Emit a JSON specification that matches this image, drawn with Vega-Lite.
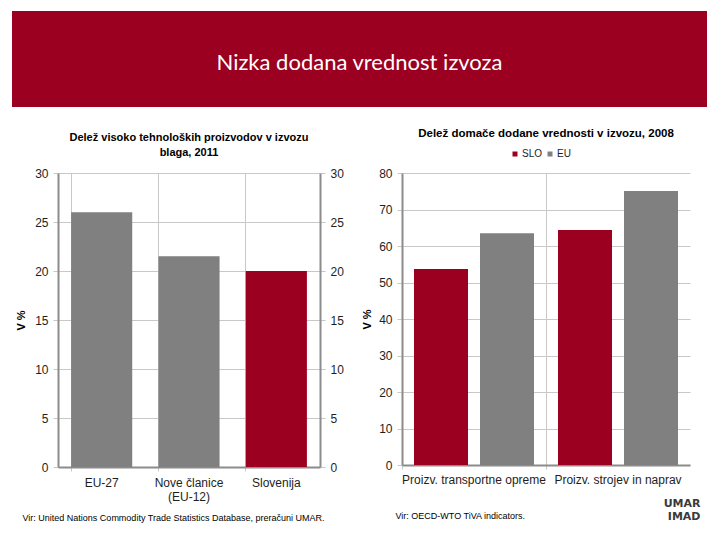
{
  "$schema": "https://vega.github.io/schema/vega-lite/v6.json",
  "padding": {"left": 12, "top": 11, "right": 13, "bottom": 5},
  "background": "white",
  "config": {
    "font": "Liberation Sans",
    "view": {"stroke": null},
    "axis": {
      "labelFont": "Liberation Sans",
      "labelFontSize": 12,
      "labelColor": "#1e1e1e",
      "domainColor": "#8c8c8c",
      "domainWidth": 2,
      "gridColor": "#c8c8c8",
      "gridWidth": 1,
      "tickColor": "#c8c8c8",
      "tickSize": 5,
      "labelPadding": 5,
      "titleFont": "Liberation Sans",
      "titleFontSize": 11,
      "titleFontWeight": "bold",
      "titleColor": "#000000"
    },
    "title": {"font": "Liberation Sans", "fontSize": 11, "fontWeight": "bold", "color": "#000000", "anchor": "middle"}
  },
  "spacing": 20,
  "resolve": {"scale": {"color": "independent"}, "legend": {"color": "independent"}},
  "vconcat": [
    {
      "width": 695,
      "height": 96,
      "view": {"fill": "#9c0020", "stroke": null},
      "data": {"values": [{"naslov": "Nizka dodana vrednost izvoza"}]},
      "mark": {"type": "text", "color": "white", "font": "Lato", "fontSize": 22, "dy": 4},
      "encoding": {"text": {"field": "naslov", "type": "nominal"}}
    },
    {
      "bounds": "flush",
      "spacing": 45,
      "resolve": {"scale": {"color": "independent"}, "legend": {"color": "independent"}},
      "hconcat": [
        {
          "width": 1,
          "height": 1,
          "data": {"values": []},
          "mark": {"type": "point", "opacity": 0},
          "encoding": {}
        },
        {
          "bounds": "flush",
          "spacing": 82,
          "resolve": {"scale": {"color": "independent"}, "legend": {"color": "independent"}},
          "hconcat": [
            {
              "width": 262,
              "height": 294,
              "title": {"text": ["Delež visoko tehnoloških proizvodov v izvozu", "blaga, 2011"], "lineHeight": 15, "offset": 9, "fontSize": 11},
              "data": {"values": [
                {"kategorija": "EU-27", "delez": 26.0, "skupina": "EU"},
                {"kategorija": "Nove članice (EU-12)", "delez": 21.5, "skupina": "EU"},
                {"kategorija": "Slovenija", "delez": 20.0, "skupina": "SLO"}
              ]},
              "encoding": {
                "x": {
                  "field": "kategorija", "type": "nominal", "sort": null,
                  "scale": {"paddingInner": 0.3, "paddingOuter": 0.15},
                  "axis": {
                    "bandPosition": 0, "grid": true, "tickSize": 4, "labelPadding": 6, "labelAngle": 0,
                    "labelLineHeight": 14,
                    "labelExpr": "datum.value == 'Nove članice (EU-12)' ? ['Nove članice', '(EU-12)'] : datum.value",
                    "title": "Vir: United Nations Commodity Trade Statistics Database, preračuni UMAR.",
                    "titleFontSize": 9, "titleFontWeight": "normal", "titleAnchor": "start", "titleAlign": "left",
                    "titleBaseline": "middle", "titleX": -36, "titleY": 50
                  }
                },
                "color": {"field": "skupina", "type": "nominal", "scale": {"domain": ["SLO", "EU"], "range": ["#9c0020", "#808080"]}, "legend": null}
              },
              "layer": [
                {
                  "mark": {"type": "bar"},
                  "encoding": {
                    "y": {"field": "delez", "type": "quantitative", "scale": {"domain": [0, 30]},
                      "axis": {"values": [0, 5, 10, 15, 20, 25, 30], "title": "V %", "titlePadding": 8, "grid": true}}
                  }
                },
                {
                  "mark": {"type": "bar", "opacity": 0},
                  "encoding": {
                    "y": {"field": "delez", "type": "quantitative", "scale": {"domain": [0, 30]},
                      "axis": {"orient": "right", "values": [0, 5, 10, 15, 20, 25, 30], "title": null, "grid": false}}
                  }
                }
              ],
              "resolve": {"axis": {"y": "independent"}}
            },
            {
              "width": 288,
              "height": 292,
              "title": {"text": "Delež domače dodane vrednosti v izvozu, 2008", "offset": 10, "fontSize": 11.5},
              "data": {"values": [
                {"dejavnost": "Proizv. transportne opreme", "serija": "SLO", "vrednost": 53.7},
                {"dejavnost": "Proizv. transportne opreme", "serija": "EU", "vrednost": 63.5},
                {"dejavnost": "Proizv. strojev in naprav", "serija": "SLO", "vrednost": 64.4},
                {"dejavnost": "Proizv. strojev in naprav", "serija": "EU", "vrednost": 75.1}
              ]},
              "encoding": {
                "x": {
                  "field": "dejavnost", "type": "nominal", "sort": null,
                  "scale": {"paddingInner": 0, "paddingOuter": 0},
                  "axis": {
                    "bandPosition": 0, "grid": true, "tickSize": 4, "labelPadding": 5, "labelAngle": 0,
                    "title": "Vir: OECD-WTO TiVA indicators.",
                    "titleFontSize": 9, "titleFontWeight": "normal", "titleAnchor": "start", "titleAlign": "left",
                    "titleBaseline": "middle", "titleX": -7, "titleY": 50
                  }
                },
                "xOffset": {"field": "serija", "type": "nominal", "sort": ["SLO", "EU"], "scale": {"paddingInner": 0.1818, "paddingOuter": 0.1818}},
                "color": {
                  "field": "serija", "type": "nominal", "sort": ["SLO", "EU"],
                  "scale": {"domain": ["SLO", "EU"], "range": ["#9c0020", "#808080"]},
                  "legend": {"orient": "none", "legendX": 108, "legendY": -24, "direction": "horizontal", "title": null, "symbolType": "square", "symbolSize": 25,
                    "labelFontSize": 10, "labelColor": "#1e1e1e", "columnPadding": 2, "labelOffset": 2}
                }
              },
              "layer": [
                {
                  "mark": {"type": "bar"},
                  "encoding": {
                    "y": {"field": "vrednost", "type": "quantitative", "scale": {"domain": [0, 80]},
                      "axis": {"values": [0, 10, 20, 30, 40, 50, 60, 70, 80], "title": "V %", "titlePadding": 6, "grid": true}}
                  }
                },
                {
                  "mark": {"type": "bar", "opacity": 0},
                  "encoding": {
                    "y": {"field": "vrednost", "type": "quantitative", "scale": {"domain": [0, 80]},
                      "axis": {"orient": "right", "labels": false, "ticks": false, "domain": false, "grid": false,
                        "title": ["UMAR", "IMAD"], "titleAngle": 0, "titleFont": "DejaVu Sans", "titleFontSize": 11,
                        "titleFontWeight": "bold", "titleColor": "#3a3a3a", "titleLineHeight": 13.5,
                        "titleAlign": "right", "titleBaseline": "alphabetic", "titleX": 10, "titleY": 333}}
                  }
                }
              ],
              "resolve": {"axis": {"y": "independent"}}
            }
          ]
        }
      ]
    }
  ]
}
